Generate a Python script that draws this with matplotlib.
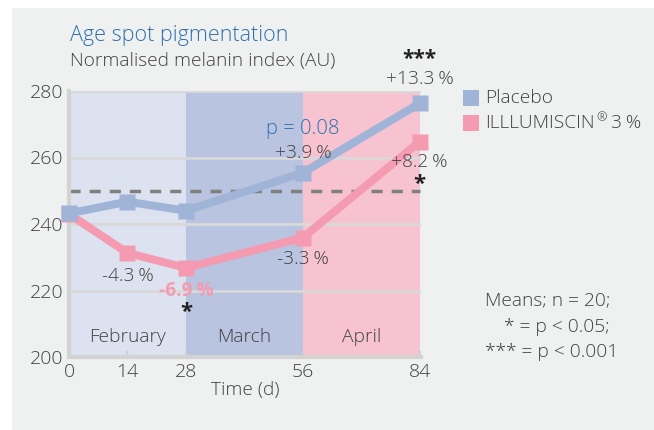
import matplotlib.pyplot as plt

# data
days = [0, 14, 28, 56, 84]
placebo = [243.2, 246.7, 244.0, 255.4, 276.3]
illumiscin = [243.0, 231.3, 226.8, 235.9, 264.8]
baseline = 250
months = ['February', 'March', 'April']
month_bounds = [(0, 28), (28, 56), (56, 84)]
month_colors = ['#dde2f0', '#b8c4e0', '#f7c3d1']

c_placebo = '#a0b4d8'
c_illu = '#f59bb1'
c_text = '#404040'
c_blue = '#2f6fae'
W, H = 654, 430
sp = '\u2009'

plt.rcParams['font.family'] = ['Open Sans', 'DejaVu Sans']
plt.rcParams['font.weight'] = 300
plt.rcParams['axes.labelweight'] = 300
fig = plt.figure(figsize=(W / 100, H / 100), dpi=100)
fig.patch.set_facecolor('white')
# grey panel
fig.add_artist(plt.Rectangle((12 / W, 0), 1, 1 - 8 / H, transform=fig.transFigure,
                             facecolor='#eff1f0', edgecolor='none', zorder=-10))

ax = fig.add_axes([69 / W, 1 - 357 / H, (421 - 69) / W, (357 - 91) / H])
ax.set_facecolor('none')
fs = 13.8
for (a, b), c, m in zip(month_bounds, month_colors, months):
    ax.axvspan(a, b, color=c, lw=0, zorder=0)
    ax.text((a + b) / 2, 206, m, ha='center', va='center', fontsize=fs, color=c_text, zorder=5)
for yv in [220, 240, 260, 280]:
    ax.axhline(yv, color='#d9d9d9', lw=2, zorder=1)
ax.plot([0, 84], [baseline, baseline], color='#808080', lw=2.5, dashes=(3.2, 2.6), zorder=2)

ax.plot(days, illumiscin, color=c_illu, lw=5.8, marker='s', ms=11.5, mec='none',
        zorder=3, clip_on=False)
ax.plot(days, placebo, color=c_placebo, lw=5.8, marker='s', ms=11.5, mec='none',
        zorder=4, clip_on=False)

ax.set_xlim(0, 84.3)
ax.set_ylim(200, 280)
ax.set_xticks(days)
ax.set_yticks([200, 220, 240, 260, 280])
ax.tick_params(axis='both', labelsize=14, colors=c_text, length=0, pad=4)
ax.tick_params(axis='x', direction='in', length=4, color='#d0d0d0', width=1.5, pad=4)
for lab in ax.get_xticklabels() + ax.get_yticklabels():
    lab.set_fontweight(300)
for s in ['top', 'right']:
    ax.spines[s].set_visible(False)
for s in ['left', 'bottom']:
    ax.spines[s].set_color('#d3d3d3')
    ax.spines[s].set_linewidth(3)
ax.set_xlabel('Time (d)', fontsize=fs, color=c_text, labelpad=0, fontweight=300)

# annotations
ax.text(14, 224.5, '-4.3' + sp + '%', ha='center', va='center', fontsize=fs, color=c_text, zorder=6)
ax.text(28, 220, '-6.9' + sp + '%', ha='center', va='center', fontsize=fs, color=c_illu,
        fontweight='bold', zorder=6)
ax.text(28, 213.5, '*', ha='center', va='center', fontsize=16, color='#222222',
        fontweight='bold', zorder=6)
ax.text(56, 229.5, '-3.3' + sp + '%', ha='center', va='center', fontsize=fs, color=c_text, zorder=6)
ax.text(56, 261.5, '+3.9' + sp + '%', ha='center', va='center', fontsize=fs, color=c_text, zorder=6)
ax.text(56, 268.5, 'p = 0.08', ha='center', va='center', fontsize=14.5, color=c_blue, zorder=6)
ax.text(84, 258.5, '+8.2' + sp + '%', ha='center', va='center', fontsize=fs, color=c_text, zorder=6)
ax.text(84, 252, '*', ha='center', va='center', fontsize=16, color='#222222',
        fontweight='bold', zorder=6)
ax.text(84, 283.5, '+13.3' + sp + '%', ha='center', va='center', fontsize=fs, color=c_text,
        clip_on=False)
ax.text(84, 289.5, '***', ha='center', va='center', fontsize=15, color='#222222',
        fontweight='bold', clip_on=False)

# titles
fig.text(70 / W, 1 - 35 / H, 'Age spot pigmentation', fontsize=15.5, color=c_blue, va='center')
fig.text(70 / W, 1 - 61 / H, 'Normalised melanin index (AU)', fontsize=fs, color=c_text,
         va='center')

# legend
for yy, c in [(98, c_placebo), (123, c_illu)]:
    fig.add_artist(plt.Rectangle((463 / W, 1 - (yy + 8) / H), 16 / W, 16 / H,
                                 transform=fig.transFigure, facecolor=c, edgecolor='none'))
fig.text(485 / W, 1 - 98 / H, 'Placebo', fontsize=fs, color=c_text, va='center')
t1 = fig.text(485 / W, 1 - 123 / H, 'ILLLUMISCIN', fontsize=fs, color=c_text, va='center')
r = ax.annotate('®', xy=(1, 0.5), xycoords=t1, xytext=(1, 3.5), textcoords='offset points',
                fontsize=9, color=c_text, ha='left', va='center', annotation_clip=False)
ax.annotate(' 3' + sp + '%', xy=(1, 0.5), xycoords=(r, t1), fontsize=fs, color=c_text,
            ha='left', va='center', annotation_clip=False)

# notes
for yy, xx, t in [(300, 485, 'Means; n = 20;'), (327, 504, '* = p < 0.05;'),
                  (352, 485, '*** = p < 0.001')]:
    fig.text(xx / W, 1 - yy / H, t, fontsize=fs, color=c_text, va='center')

fig.savefig('out.png', dpi=100)
